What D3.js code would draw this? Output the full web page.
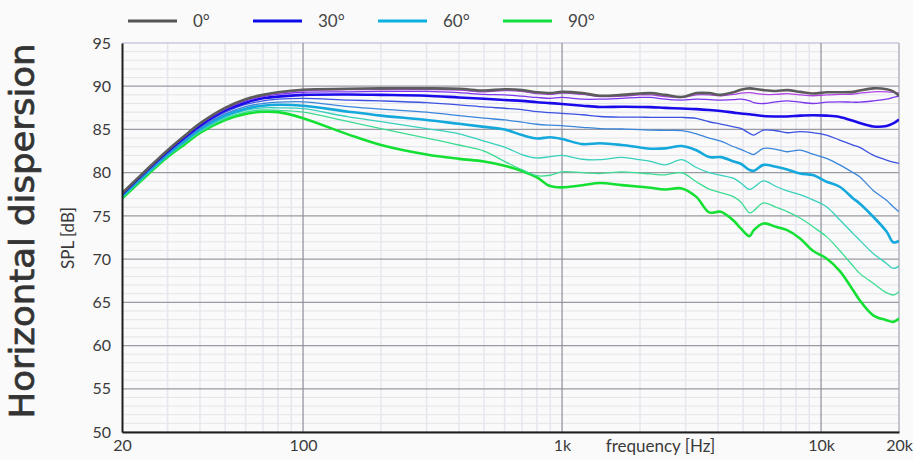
<!DOCTYPE html>
<html>
<head>
<meta charset="utf-8">
<script src="https://cdn.jsdelivr.net/npm/d3@7"></script>
<style>
  body { margin: 0; background: #fafafa; }
  svg { display: block; }
</style>
</head>
<body>
<div id="viz"></div>
<script>
// frequencies [Hz] shared by every curve
var freqs = [20, 25, 30, 35, 40, 50, 60, 70, 80,
  100, 150, 200, 300, 400, 500, 600, 700, 800, 900, 1000, 1200, 1400,
  1700, 2000, 2200, 2500, 2900, 3300, 3700, 4100, 4600, 4900, 5300, 5500, 6000,
  6700, 7400, 8300, 9300, 10500, 11800, 13300, 14100, 15900, 17900, 19000, 20000];

var angles = ['0°', '10°', '20°', '30°', '40°', '50°', '60°', '70°', '80°', '90°'];

// SPL [dB] per angle
var spl0 = [77.6, 80.4, 82.6, 84.3, 85.7, 87.5, 88.5, 89.0, 89.3,
  89.6, 89.7, 89.75, 89.75, 89.7, 89.5, 89.65, 89.55, 89.3, 89.2, 89.35, 89.2, 88.9,
  89.0, 89.15, 89.2, 89.0, 88.75, 89.2, 89.2, 89.0, 89.3, 89.6, 89.75, 89.7, 89.55,
  89.45, 89.55, 89.35, 89.15, 89.3, 89.3, 89.35, 89.5, 89.75, 89.65, 89.4, 88.9];
var spl10 = [77.6, 80.4, 82.6, 84.3, 85.65, 87.45, 88.45, 88.95, 89.2,
  89.5, 89.6, 89.6, 89.6, 89.55, 89.35, 89.5, 89.4, 89.15, 89.05, 89.2, 89.05, 88.8,
  88.85, 89.0, 89.0, 88.8, 88.7, 89.0, 89.0, 88.9, 89.05, 89.2, 89.25, 89.2, 89.05,
  89.05, 89.15, 89.0, 88.9, 89.0, 89.05, 89.1, 89.2, 89.35, 89.35, 89.3, 89.2];
var spl20 = [77.55, 80.35, 82.55, 84.2, 85.6, 87.35, 88.3, 88.8, 89.05,
  89.3, 89.35, 89.4, 89.4, 89.25, 89.05, 89.0, 88.85, 88.7, 88.6, 88.7, 88.5, 88.5,
  88.6, 88.7, 88.7, 88.5, 88.4, 88.5, 88.45, 88.4, 88.45, 88.5, 88.3, 88.1, 88.0,
  88.2, 88.3, 88.15, 88.0, 88.15, 88.2, 88.15, 88.15, 88.3, 88.5, 88.7, 88.85];
var spl30 = [77.5, 80.3, 82.45, 84.1, 85.45, 87.2, 88.1, 88.6, 88.8,
  89.0, 89.05, 89.0, 88.9, 88.7, 88.55, 88.4, 88.3, 88.15, 88.05, 87.95, 87.75, 87.6,
  87.62, 87.6, 87.58, 87.5, 87.42, 87.35, 87.25, 87.13, 86.95, 86.85, 86.75, 86.7, 86.55,
  86.5, 86.5, 86.6, 86.65, 86.6, 86.45, 86.0, 85.75, 85.35, 85.4, 85.7, 86.15];
var spl40 = [77.45, 80.2, 82.35, 84.0, 85.3, 87.0, 87.9, 88.3, 88.5,
  88.6, 88.4, 88.3, 88.1, 87.85, 87.6, 87.45, 87.3, 87.05, 86.95, 86.85, 86.7, 86.5,
  86.43, 86.43, 86.39, 86.39, 86.39, 86.28, 85.89, 85.62, 85.3, 85.12, 84.54, 84.35, 84.93,
  84.85, 84.62, 84.74, 84.62, 84.35, 83.77, 83.19, 82.92, 82.03, 81.46, 81.22, 81.07];
var spl50 = [77.4, 80.1, 82.25, 83.85, 85.15, 86.8, 87.65, 88.0, 88.15,
  88.2, 87.65, 87.35, 87.0, 86.6, 86.3, 86.1, 85.85, 85.6, 85.5, 85.45, 85.25, 85.1,
  85.05, 84.98, 84.93, 84.9, 84.87, 84.5, 84.0, 83.65, 83.0, 82.7, 82.25, 82.1, 82.8,
  82.7, 82.42, 82.6, 82.15, 81.65, 80.9, 80.0, 79.53, 77.95, 76.8, 76.05, 75.48];
var spl60 = [77.3, 80.0, 82.1, 83.7, 85.0, 86.6, 87.4, 87.75, 87.85,
  87.75, 87.05, 86.6, 86.1, 85.65, 85.3, 85.0, 84.35, 83.95, 84.1, 83.9, 83.3, 83.4,
  83.2, 82.92, 82.77, 82.81, 83.08, 82.6, 81.8, 81.8, 81.3, 81.03, 80.3, 80.22, 80.9,
  80.68, 80.38, 79.91, 79.72, 78.95, 78.37, 77.02, 76.44, 74.9, 73.2, 71.95, 72.1];
var spl70 = [77.2, 79.9, 82.0, 83.55, 84.85, 86.4, 87.2, 87.5, 87.5,
  87.4, 86.45, 85.9, 85.1, 84.5, 83.65, 82.95, 82.1, 81.7, 81.85, 82.0, 81.55, 81.5,
  81.76, 81.5, 81.3, 80.9, 81.5, 80.6, 80.0, 79.7, 79.33, 78.8, 78.06, 78.3, 79.05,
  78.4, 77.9, 77.45, 76.85, 76.05, 74.55, 72.95, 72.2, 70.65, 69.5, 68.92, 69.19];
var spl80 = [77.1, 79.8, 81.9, 83.45, 84.7, 86.25, 87.0, 87.25, 87.2,
  87.0, 85.9, 85.1, 84.0, 83.2, 82.5, 81.3, 80.35, 79.65, 79.7, 80.1, 80.0, 79.9,
  80.1, 79.95, 79.85, 79.75, 79.99, 78.95, 78.1, 77.7, 77.2, 76.6, 75.35, 75.6, 76.5,
  76.0, 75.5, 74.75, 73.75, 72.6, 71.0, 69.2, 68.35, 67.2, 66.1, 65.85, 66.2];
var spl90 = [77.0, 79.7, 81.8, 83.3, 84.6, 86.1, 86.8, 87.05, 87.0,
  86.3, 84.4, 83.2, 82.1, 81.6, 81.3, 80.8, 80.2, 79.45, 78.45, 78.3, 78.55, 78.8,
  78.56, 78.37, 78.25, 78.06, 78.18, 77.2, 75.4, 75.47, 74.43, 73.55, 72.66, 73.35, 74.13,
  73.74, 73.35, 72.39, 70.96, 70.07, 68.65, 66.4, 65.25, 63.5, 62.94, 62.74, 63.13];

var series = [spl0, spl10, spl20, spl30, spl40, spl50, spl60, spl70, spl80, spl90];

var xTickValues = [20, 100, 1000, 10000, 20000];
var xTickLabels = ['20', '100', '1k', '10k', '20k'];
var yTickValues = [50, 55, 60, 65, 70, 75, 80, 85, 90, 95];
var legendAngles = ['0°', '30°', '60°', '90°'];

// styles
var colors = ['#5c5c5c', '#b044e4', '#7c34ee', '#1a0aea', '#3c52e0',
  '#3a86da', '#14a8dc', '#38d0bc', '#3cdc92', '#14e034'];
var widths = [2.6, 1.3, 1.3, 2.6, 1.3, 1.3, 2.6, 1.3, 1.3, 2.6];
var legendColors = ['#555555', '#0a0ae8', '#0ab0e0', '#10e040'];

var W = 913, H = 460;
var margin = {top: 43, right: 14, bottom: 28, left: 122},
    width = W - margin.left - margin.right,
    height = H - margin.top - margin.bottom;

var xScale = d3.scaleLog()
    .domain([20, 20000])
    .range([0, width]);

var yScale = d3.scaleLinear()
    .domain([50, 95])
    .range([height, 0]);

var svg = d3.select('#viz')
  .append('svg')
    .attr('width', W)
    .attr('height', H);

svg.append('rect')
    .attr('width', W)
    .attr('height', H)
    .attr('fill', '#fafafa');

var chart = svg.append('g')
    .attr('transform', 'translate(' + margin.left + ',' + margin.top + ')');

// grid: minor first, then major
var xMinor = xScale.ticks().filter(function(d) { return xTickValues.indexOf(d) < 0 || d == 20000; });
var xMajor = [100, 1000, 10000];
var yMinor = d3.range(50, 96, 1).filter(function(d) { return d % 5 != 0; });

chart.append('g').selectAll('line')
  .data(yMinor)
  .join('line')
    .attr('x1', 0).attr('x2', width)
    .attr('y1', function(d) { return yScale(d); })
    .attr('y2', function(d) { return yScale(d); })
    .attr('stroke', '#e4e4ea')
    .attr('stroke-width', 1);

chart.append('g').selectAll('line')
  .data(xMinor)
  .join('line')
    .attr('x1', function(d) { return xScale(d); })
    .attr('x2', function(d) { return xScale(d); })
    .attr('y1', 0).attr('y2', height)
    .attr('stroke', '#e6e6ee')
    .attr('stroke-width', 1.5);

chart.append('g').selectAll('line')
  .data(yTickValues)
  .join('line')
    .attr('x1', 0).attr('x2', width)
    .attr('y1', function(d) { return yScale(d); })
    .attr('y2', function(d) { return yScale(d); })
    .attr('stroke', function(d) { return d == 95 ? '#b8aed0' : '#9a9aa2'; })
    .attr('stroke-width', 1.2);

chart.append('g').selectAll('line')
  .data(xMajor)
  .join('line')
    .attr('x1', function(d) { return xScale(d); })
    .attr('x2', function(d) { return xScale(d); })
    .attr('y1', 0).attr('y2', height)
    .attr('stroke', '#8e8e9c')
    .attr('stroke-width', 1.2);

// right border
chart.append('line')
    .attr('x1', width).attr('x2', width)
    .attr('y1', 0).attr('y2', height)
    .attr('stroke', '#a0a0aa')
    .attr('stroke-width', 1);

// curves
chart.append('clipPath')
    .attr('id', 'plotclip')
  .append('rect')
    .attr('width', width)
    .attr('height', height);

var lineFunc = d3.line()
  .x(function(d, i) { return xScale(freqs[i]); })
  .y(function(d) { return yScale(d); })
  .curve(d3.curveCatmullRom.alpha(0.5));

var order = d3.range(series.length).reverse();

chart.append('g')
    .attr('clip-path', 'url(#plotclip)')
  .selectAll('path')
  .data(order)
  .join('path')
    .attr('d', function(k) { return lineFunc(series[k]); })
    .attr('fill', 'none')
    .attr('stroke', function(k) { return colors[k]; })
    .attr('stroke-width', function(k) { return widths[k]; })
    .attr('stroke-linejoin', 'round');

// axes
var yAxis = d3.axisLeft(yScale)
    .tickValues(yTickValues)
    .tickSize(0)
    .tickPadding(11);

var xAxis = d3.axisBottom(xScale)
    .tickValues(xTickValues)
    .tickFormat(function(d, i) { return xTickLabels[i]; })
    .tickSize(0)
    .tickPadding(8);

var yGuide = chart.append('g').call(yAxis);
var xGuide = chart.append('g')
    .attr('transform', 'translate(0,' + height + ')')
    .call(xAxis);

[yGuide, xGuide].forEach(function(g) {
  g.select('.domain')
    .attr('stroke', '#1e1e1e')
    .attr('stroke-width', 2);
  g.selectAll('text')
    .attr('font-family', 'Lato, sans-serif')
    .attr('font-size', 16)
    .attr('fill', '#3a3a3a');
});

// axis titles
chart.append('text')
    .attr('x', xScale(2400))
    .attr('y', height + 20)
    .attr('text-anchor', 'middle')
    .attr('font-family', 'Lato, sans-serif')
    .attr('font-size', 17)
    .attr('fill', '#3a3a3a')
    .text('frequency [Hz]');

svg.append('text')
    .attr('transform', 'translate(74,238) rotate(-90)')
    .attr('text-anchor', 'middle')
    .attr('font-family', 'Lato, sans-serif')
    .attr('font-size', 17)
    .attr('fill', '#3a3a3a')
    .text('SPL [dB]');

svg.append('text')
    .attr('transform', 'translate(34,231) rotate(-90)')
    .attr('text-anchor', 'middle')
    .attr('font-family', 'DejaVu Sans, sans-serif')
    .attr('font-size', 33)
    .attr('textLength', 375)
    .attr('lengthAdjust', 'spacingAndGlyphs')
    .attr('fill', '#333333')
    .attr('stroke', '#333333')
    .attr('stroke-width', 0.7)
    .text('Horizontal dispersion');

// legend
var legend = svg.append('g')
    .attr('transform', 'translate(128,21)');

var item = legend.selectAll('g')
  .data(legendAngles)
  .join('g')
    .attr('transform', function(d, i) { return 'translate(' + (i * 125) + ',0)'; });

item.append('line')
    .attr('x1', 0).attr('x2', 49)
    .attr('stroke', function(d, i) { return legendColors[i]; })
    .attr('stroke-width', 3);

item.append('text')
    .attr('x', 65)
    .attr('y', 6)
    .attr('font-family', 'Lato, sans-serif')
    .attr('font-size', 17)
    .attr('fill', '#444444')
    .text(function(d) { return d; });
</script>
</body>
</html>
